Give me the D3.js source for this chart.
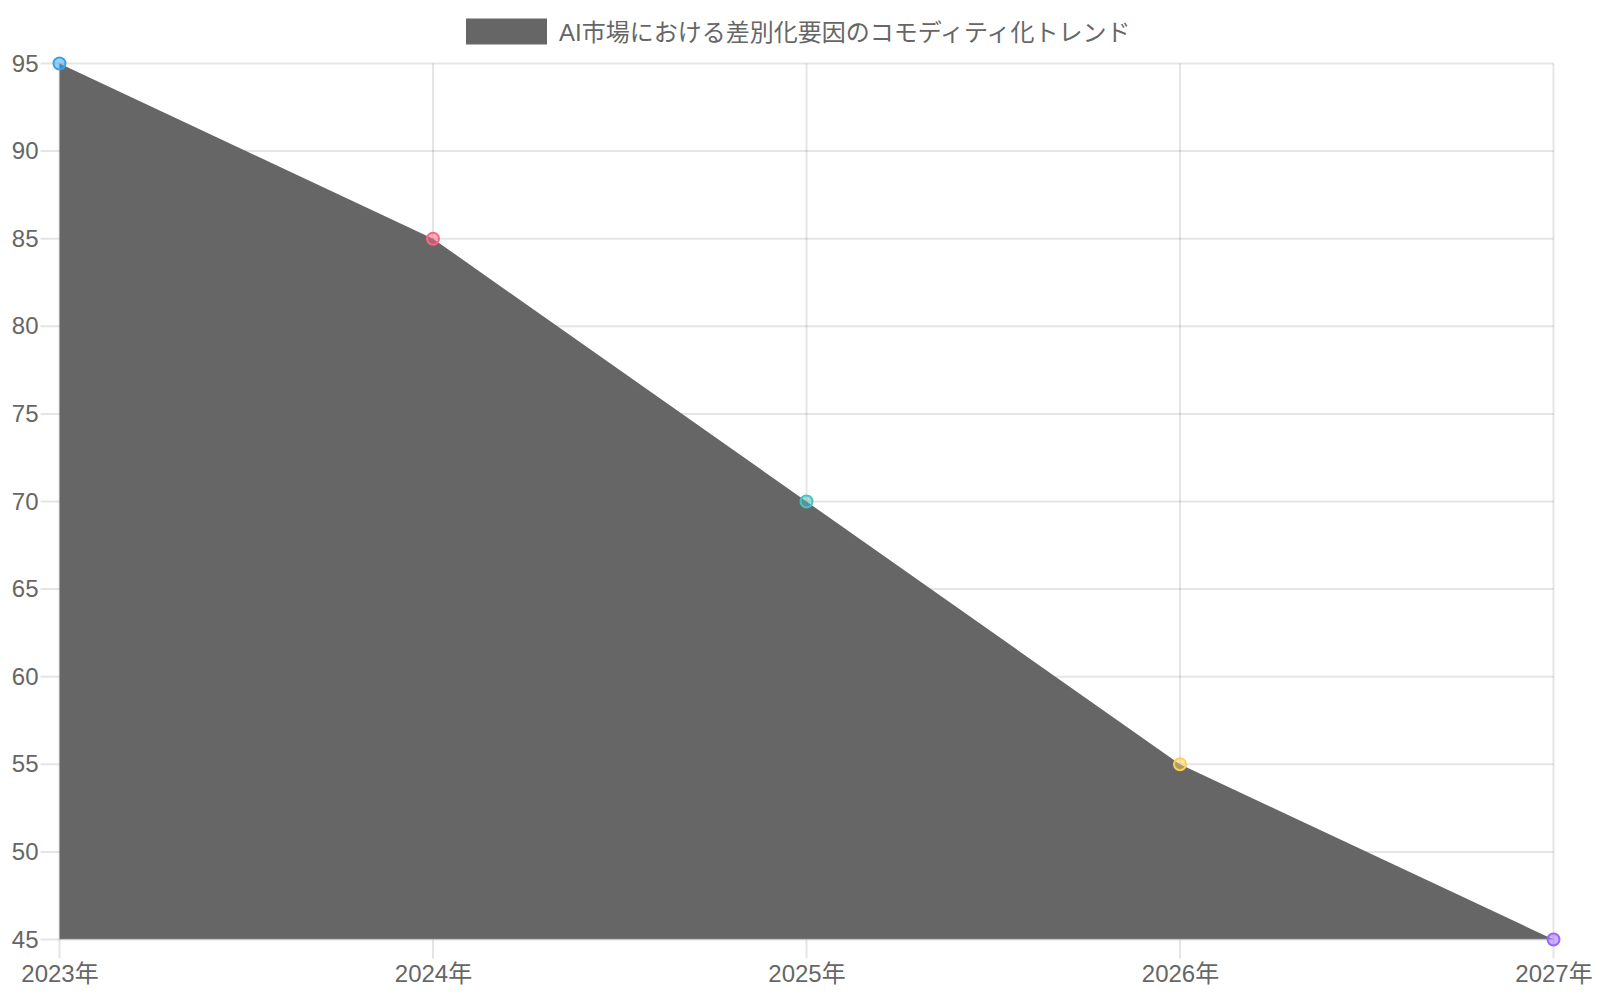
<!DOCTYPE html>
<html>
<head>
<meta charset="utf-8">
<script src="https://cdn.jsdelivr.net/npm/d3@7"></script>
<style>
  body { margin: 0; background: #fff; }
  svg text { font-family: "Liberation Sans", "Noto Sans CJK JP", sans-serif; fill: #666; }
</style>
</head>
<body>
<div id="chart"></div>
<script>
const years = ["2023年", "2024年", "2025年", "2026年", "2027年"];
const values = [95, 85, 70, 55, 45];
const pointColors = ["#36A2EB", "#FF6384", "#4BC0C0", "#FFCD56", "#9966FF"];
const yTicks = [45, 50, 55, 60, 65, 70, 75, 80, 85, 90, 95];
const seriesName = "AI市場における差別化要因のコモディティ化トレンド";

const w = 1600;
const h = 1000;
const plotLeft = 59.5, plotRight = 1553.5, plotTop = 63.5, plotBottom = 939.5;

const svg = d3.select("#chart")
              .append("svg")
              .attr("width", w)
              .attr("height", h);

const xScale = d3.scalePoint()
                 .domain(years)
                 .range([plotLeft, plotRight]);

const yScale = d3.scaleLinear()
                 .domain([45, 95])
                 .range([plotBottom, plotTop]);

//-------------------grid---------------------------
const gridColor = "rgba(0,0,0,0.1)";
svg.append("g")
   .selectAll("line")
   .data(yTicks)
   .enter()
   .append("line")
   .attr("x1", plotLeft - 19)
   .attr("x2", plotRight)
   .attr("y1", d => yScale(d))
   .attr("y2", d => yScale(d))
   .attr("stroke", gridColor)
   .attr("stroke-width", 2);

svg.append("g")
   .selectAll("line")
   .data(years)
   .enter()
   .append("line")
   .attr("x1", d => xScale(d))
   .attr("x2", d => xScale(d))
   .attr("y1", plotTop)
   .attr("y2", plotBottom + 19)
   .attr("stroke", gridColor)
   .attr("stroke-width", 2);

//-------------------axes labels---------------------------
const yAxis = d3.axisLeft(yScale).tickValues(yTicks).tickSize(0).tickPadding(21);
svg.append("g")
   .attr("transform", "translate(" + plotLeft + ",0)")
   .call(yAxis)
   .call(g => g.select(".domain").remove())
   .selectAll("text")
   .attr("font-size", 24)
   .attr("fill", "#666");

const xAxis = d3.axisBottom(xScale).tickSize(0).tickPadding(25);
svg.append("g")
   .attr("transform", "translate(0," + plotBottom + ")")
   .call(xAxis)
   .call(g => g.select(".domain").remove())
   .selectAll("text")
   .attr("font-size", 24)
   .attr("fill", "#666");

//-------------------area---------------------------
const area = d3.area()
               .x((d, i) => xScale(years[i]))
               .y0(yScale(45))
               .y1(d => yScale(d));

svg.append("path")
   .datum(values)
   .attr("d", area)
   .attr("fill", "#666666");

// faint axis border over the fill edge
svg.append("line")
   .attr("x1", plotLeft).attr("x2", plotRight)
   .attr("y1", plotBottom).attr("y2", plotBottom)
   .attr("stroke", "rgba(255,255,255,0.35)")
   .attr("stroke-width", 1.5);

//-------------------points---------------------------
svg.append("g")
   .selectAll("circle")
   .data(values)
   .enter()
   .append("circle")
   .attr("cx", (d, i) => xScale(years[i]))
   .attr("cy", d => yScale(d))
   .attr("r", 6)
   .attr("fill", (d, i) => d3.color(pointColors[i]).copy({opacity: 0.5}))
   .attr("stroke", (d, i) => pointColors[i])
   .attr("stroke-width", 2);

//-------------------legend---------------------------
const legend = svg.append("g").attr("id", "legend");
legend.append("rect")
      .attr("x", 466)
      .attr("y", 18.5)
      .attr("width", 81)
      .attr("height", 26)
      .attr("fill", "#666666");
legend.append("text")
      .attr("x", 559)
      .attr("y", 32)
      .attr("dominant-baseline", "central")
      .attr("font-size", 24)
      .text(seriesName);
</script>
</body>
</html>
